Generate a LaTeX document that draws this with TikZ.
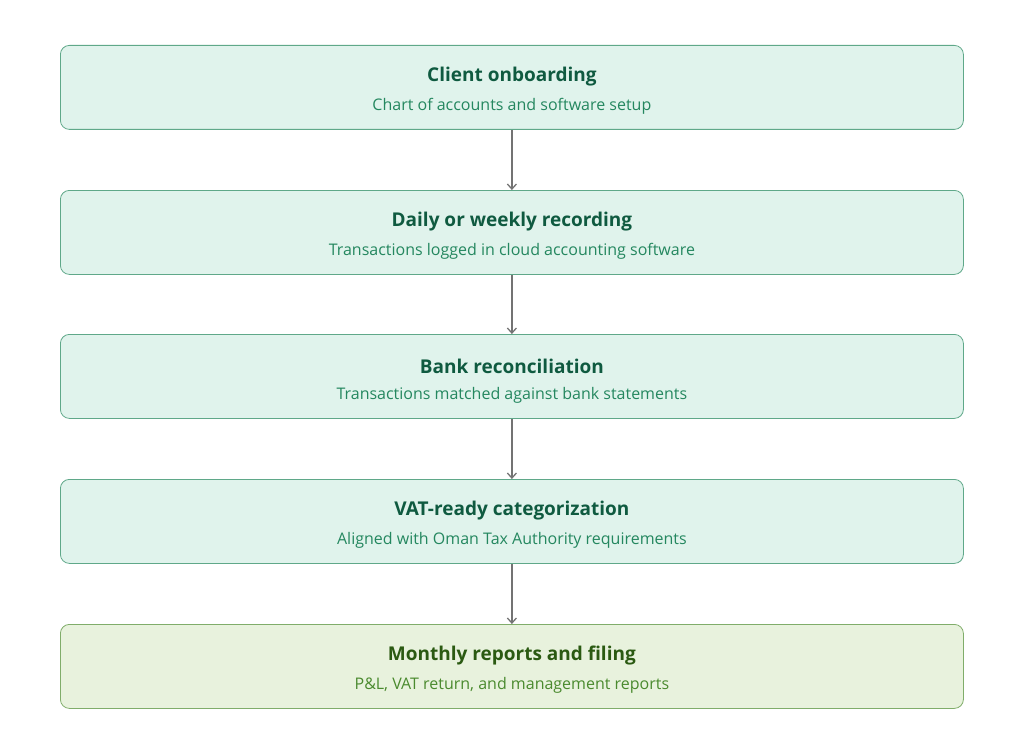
\documentclass[tikz,border=0pt]{standalone}
\usepackage{fontspec}
\setmainfont{Open Sans}
\usetikzlibrary{arrows.meta}
\definecolor{tfill}{HTML}{E0F3EC}
\definecolor{tdraw}{HTML}{5FA889}
\definecolor{ttitle}{HTML}{0F5A40}
\definecolor{tsub}{HTML}{24875F}
\definecolor{gfill}{HTML}{E8F2DD}
\definecolor{gdraw}{HTML}{80AD6A}
\definecolor{gtitle}{HTML}{2B5A12}
\definecolor{gsub}{HTML}{4A8A2E}
\begin{document}
\begin{tikzpicture}[x=1pt,y=-1pt,
 box/.style={draw=tdraw,fill=tfill,rounded corners=9pt,line width=0.8pt,minimum width=903pt,minimum height=84pt,anchor=north west,inner sep=0pt},
 gbox/.style={box,draw=gdraw,fill=gfill},
 ttl/.style={font=\fontsize{19}{22}\selectfont\bfseries\addfontfeatures{FakeBold=0}},
 sub/.style={font=\fontsize{16}{19}\selectfont},
 arr/.style={draw=gray!90!black,line width=1.3pt,-{Straight Barb[length=5pt,width=9pt]}}]
\useasboundingbox (0,0) rectangle (1024,738);
\node[box] (b1) at (60,45) {};
\node[box] (b2) at (60,190) {};
\node[box] (b3) at (60,334) {};
\node[box] (b4) at (60,479) {};
\node[gbox] (b5) at (60,624) {};
\foreach \i/\t/\s in {1/Client onboarding/Chart of accounts and software setup,
 2/Daily or weekly recording/Transactions logged in cloud accounting software,
 3/Bank reconciliation/Transactions matched against bank statements,
 4/VAT-ready categorization/Aligned with Oman Tax Authority requirements}{
 \node[ttl,text=ttitle] (t\i) at ([yshift=-32pt]b\i.north) {\t};
 \node[sub,text=tsub] (s\i) at ([yshift=-61pt]b\i.north) {\s};
}
\node[ttl,text=gtitle] (t5) at ([yshift=-32pt]b5.north) {Monthly reports and filing};
\node[sub,text=gsub] (s5) at ([yshift=-61pt]b5.north) {P\&L, VAT return, and management reports};
\foreach \a/\b in {1/2,2/3,3/4,4/5}{\draw[arr] (b\a.south) -- (b\b.north);}
\end{tikzpicture}
\end{document}
